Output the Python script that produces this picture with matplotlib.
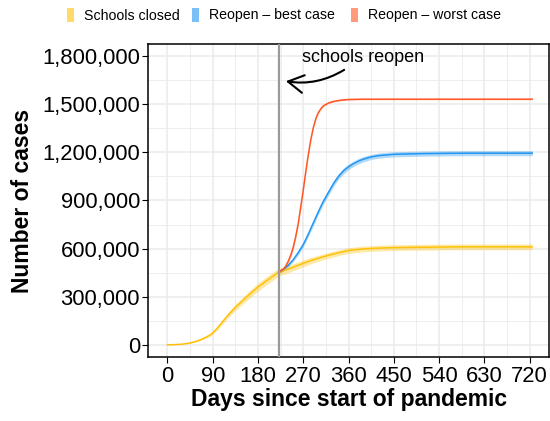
import numpy as np
import matplotlib
matplotlib.use("Agg")
import matplotlib.pyplot as plt
from matplotlib.patches import Rectangle, FancyArrowPatch
from matplotlib.ticker import FuncFormatter, MultipleLocator

plt.rcParams['font.family'] = ['Liberation Sans', 'DejaVu Sans']

# cumulative cases (millions) for each scenario
closed_days = [0, 15, 30, 45, 60, 70, 80, 85, 90, 95, 100, 110, 120, 135, 150, 165, 180, 195,
               210, 221, 240, 255, 270, 285, 300, 320, 340, 360, 390, 420, 450, 500, 550, 600,
               650, 725]
closed_cases = [0.0, 0.001, 0.004, 0.011, 0.024, 0.037, 0.053, 0.062, 0.074, 0.09, 0.107, 0.145,
                0.183, 0.233, 0.277, 0.32, 0.36, 0.395, 0.428, 0.453, 0.472, 0.49, 0.508, 0.525,
                0.54, 0.558, 0.574, 0.588, 0.598, 0.603, 0.606, 0.608, 0.61, 0.611, 0.611, 0.611]
closed_spread = [0.0, 0.0, 0.001, 0.002, 0.004, 0.005, 0.007, 0.008, 0.009, 0.01, 0.012, 0.015,
                 0.017, 0.02, 0.022, 0.024, 0.025, 0.026, 0.026, 0.025, 0.024, 0.022, 0.021, 0.02,
                 0.019, 0.018, 0.018, 0.018, 0.018, 0.018, 0.018, 0.018, 0.018, 0.018, 0.018, 0.018]

best_days = [221, 230, 240, 250, 260, 270, 280, 290, 300, 310, 320, 330, 340, 350, 360, 370,
             380, 390, 405, 420, 450, 500, 550, 600, 650, 725]
best_cases = [0.453, 0.47, 0.495, 0.53, 0.575, 0.625, 0.69, 0.76, 0.83, 0.895, 0.95, 1.005,
              1.05, 1.085, 1.11, 1.13, 1.146, 1.158, 1.172, 1.18, 1.188, 1.192, 1.194, 1.195,
              1.195, 1.195]
best_spread = [0.006, 0.008, 0.01, 0.012, 0.014, 0.015, 0.016, 0.017, 0.018, 0.018, 0.018, 0.018,
               0.018, 0.018, 0.018, 0.017, 0.017, 0.017, 0.016, 0.016, 0.016, 0.016, 0.016, 0.016,
               0.016, 0.016]

worst_days = [221, 230, 235, 240, 245, 250, 255, 260, 265, 270, 275, 280, 285, 290, 295, 300,
              305, 310, 320, 330, 345, 360, 390, 450, 550, 650, 725]
worst_cases = [0.453, 0.47, 0.49, 0.52, 0.558, 0.608, 0.675, 0.757, 0.86, 0.965, 1.08, 1.185,
               1.28, 1.355, 1.41, 1.448, 1.472, 1.49, 1.508, 1.518, 1.526, 1.53, 1.532, 1.532,
               1.532, 1.532, 1.532]
worst_spread = [0.008, 0.012, 0.013, 0.013, 0.013, 0.012, 0.011, 0.01, 0.009, 0.008, 0.007, 0.006,
                0.006, 0.005, 0.005, 0.005, 0.004, 0.004, 0.004, 0.004, 0.004, 0.004, 0.004, 0.004,
                0.004, 0.004, 0.004]

labels = ["Schools closed", "Reopen \u2013 best case", "Reopen \u2013 worst case"]
colors = ["#FFC107", "#2196F3", "#FF5722"]

reopen_day = 221

fig = plt.figure(figsize=(5.5, 4.21), dpi=100)
ax = fig.add_axes([148.3 / 550, 63.7 / 421, 401 / 550, 313.3 / 421])

series = [(closed_days, closed_cases, closed_spread),
          (best_days, best_cases, best_spread),
          (worst_days, worst_cases, worst_spread)]
for (d, c, s), col in zip(series, colors):
    d = np.array(d)
    c = np.array(c) * 1e6
    s = np.array(s) * 1e6
    ax.fill_between(d, c - s, c + s, color=col, alpha=0.35, lw=0, zorder=2)
for (d, c, s), col in zip(series, colors):
    ax.plot(d, np.array(c) * 1e6, color=col, lw=1.1, zorder=3, solid_joinstyle="round")

ax.axvline(reopen_day, color="#999999", lw=1.6, zorder=4)

ax.set_xlim(-38, 759)
ax.set_ylim(-78000, 1876000)
ax.xaxis.set_major_locator(MultipleLocator(90))
ax.xaxis.set_minor_locator(MultipleLocator(45))
ax.yaxis.set_major_locator(MultipleLocator(300000))
ax.yaxis.set_minor_locator(MultipleLocator(150000))
ax.yaxis.set_major_formatter(FuncFormatter(lambda v, p: f"{int(round(v)):,}"))
ax.grid(which="major", color="#EBEBEB", lw=1.1, zorder=0)
ax.grid(which="minor", color="#EBEBEB", lw=0.6, zorder=0)
ax.set_axisbelow(True)
ax.tick_params(which="major", labelsize=15.8, length=4.5, width=0.8, color="black", pad=1.5)
ax.tick_params(which="minor", length=0)
for sp in ax.spines.values():
    sp.set_linewidth(1.1)
    sp.set_color("black")

ax.set_xlabel("Days since start of pandemic", fontsize=16.5, fontweight="bold", labelpad=1)
ax.set_ylabel("Number of cases", fontsize=16.5, fontweight="bold", labelpad=6)

# annotation with curved arrow
ax.text(389, 1790000, "schools reopen", fontsize=13, ha="center", va="center", zorder=5)
arrow = FancyArrowPatch((356, 1724000), (230, 1647000),
                        connectionstyle="arc3,rad=-0.2",
                        arrowstyle="->,head_length=0.7,head_width=0.4",
                        mutation_scale=16, lw=1.5, color="black", zorder=5)
ax.add_patch(arrow)

# legend along the top
key_x = [67, 192, 351]
for x, lab, col in zip(key_x, labels, colors):
    fig.add_artist(Rectangle((x / 550, 1 - 22.3 / 421), 6.5 / 550, 14 / 421,
                             transform=fig.transFigure, facecolor=col, alpha=0.6, lw=0))
    fig.text((x + 17) / 550, 1 - 15.5 / 421, lab, fontsize=10.2, va="center", ha="left")

fig.savefig("out.png", dpi=100)
